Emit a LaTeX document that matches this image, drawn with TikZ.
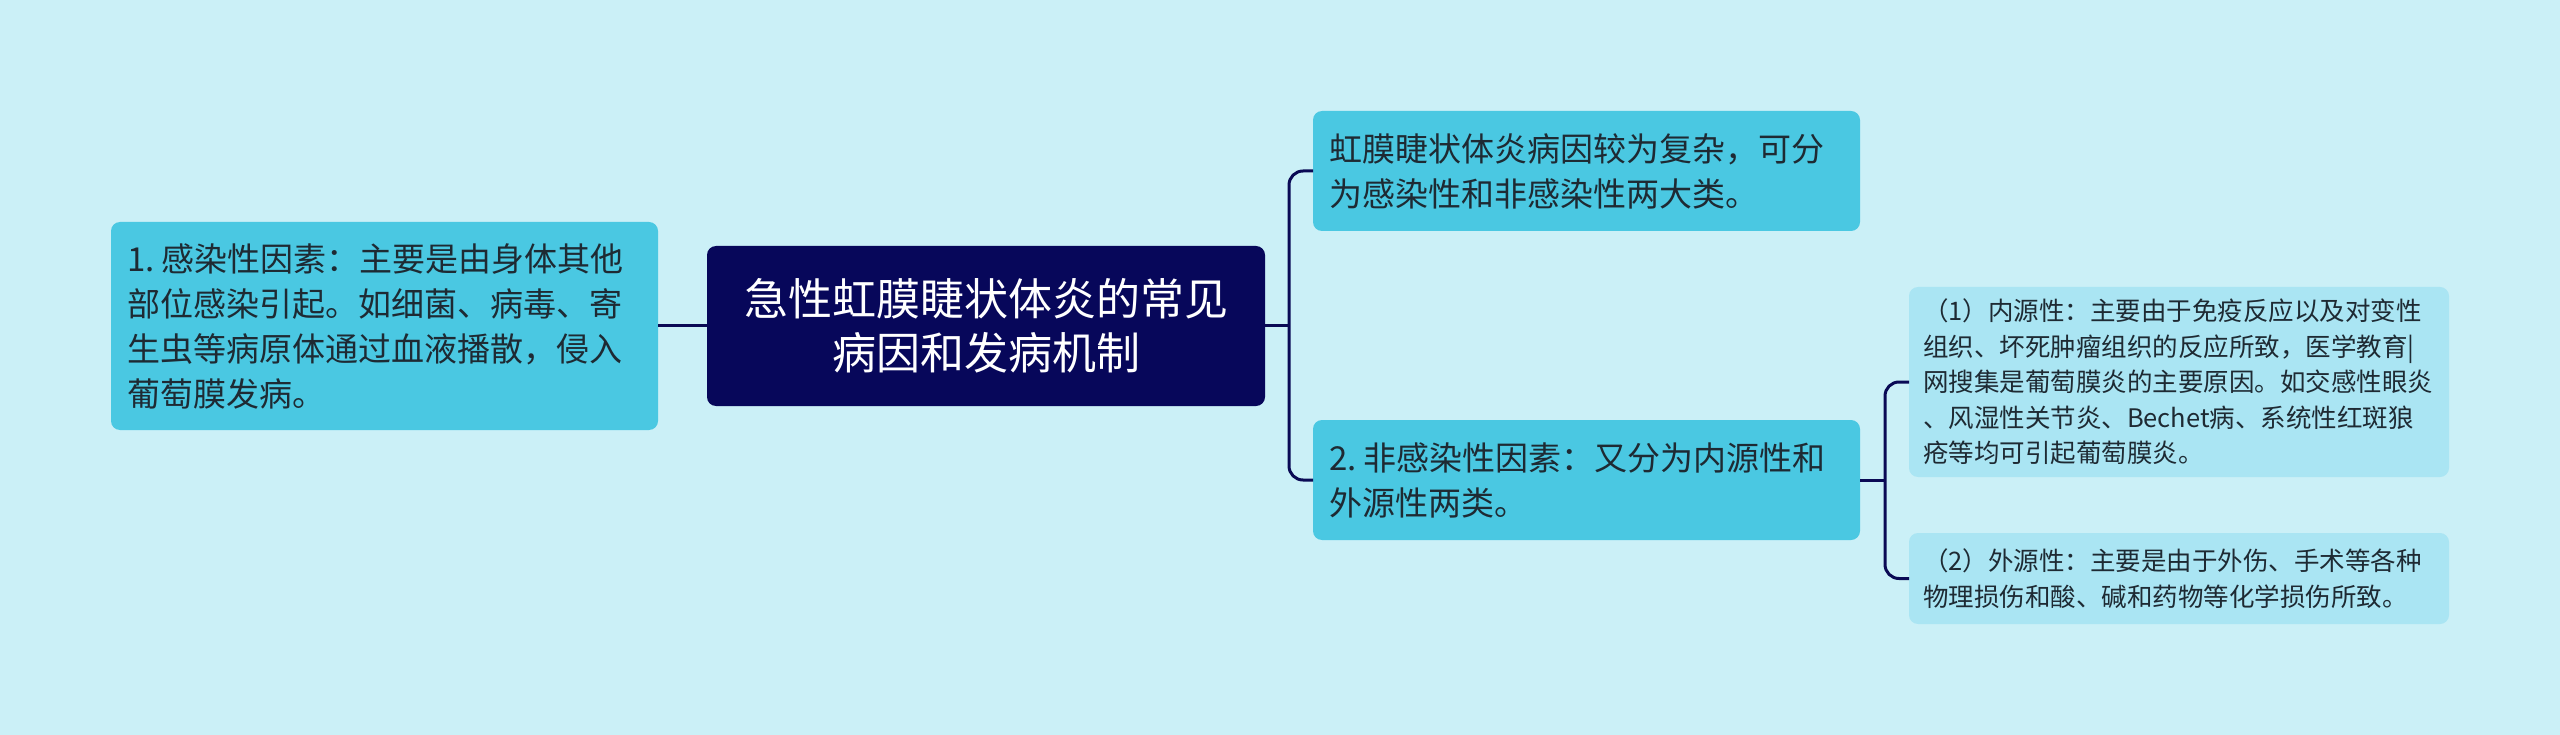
\documentclass[tikz,border=0pt]{standalone}
\usepackage{fontspec}
\setmainfont{Noto Sans CJK SC}
\definecolor{bgc}{HTML}{CBF0F7}
\definecolor{lvone}{HTML}{4AC8E2}
\definecolor{lvtwo}{HTML}{AAE5F3}
\definecolor{rootc}{HTML}{07075A}
\definecolor{linec}{HTML}{0A0A55}
\definecolor{txtc}{HTML}{1E2A33}
\begin{document}
\begin{tikzpicture}[x=1pt,y=-1pt,
  boxbase/.style={draw=none, rounded corners=9pt, anchor=north west, inner ysep=0pt, outer sep=0pt},
  lvbox/.style={boxbase, fill=lvone, text=txtc, align=left, inner xsep=16pt,
     font=\fontsize{33}{45}\selectfont},
  subbox/.style={boxbase, fill=lvtwo, text=txtc, align=left, inner xsep=14pt,
     font=\fontsize{25.5}{35.5}\selectfont},
  rootbox/.style={boxbase, fill=rootc, text=white, align=center,
     font=\fontsize{44}{54}\selectfont},
  conn/.style={draw=linec, line width=3pt},
]
\fill[bgc] (0,0) rectangle (2560,735);
\useasboundingbox (0,0) rectangle (2560,735);

\node[rootbox, minimum width=558pt, minimum height=160pt] (C) at (707,246)
  {急性虹膜睫状体炎的常见\\病因和发病机制};

\node[lvbox, minimum width=547pt, minimum height=208pt, text width=515pt] (L) at (111,222)
  {1.\kern0.22em感染性因素：主要是由身体其他\\部位感染引起。如细菌、病毒、寄\\生虫等病原体通过血液播散，侵入\\葡萄膜发病。};

\node[lvbox, minimum width=547pt, minimum height=120pt, text width=515pt] (R1) at (1313,111)
  {虹膜睫状体炎病因较为复杂，可分\\为感染性和非感染性两大类。};

\node[lvbox, minimum width=547pt, minimum height=120pt, text width=515pt] (R2) at (1313,420)
  {2.\kern0.22em非感染性因素：又分为内源性和\\外源性两类。};

\node[subbox, minimum width=540pt, minimum height=190pt, text width=512pt] (S1) at (1909,287)
  {（1）内源性：主要由于免疫反应以及对变性\\组织、坏死肿瘤组织的反应所致，医学教育|\\网搜集是葡萄膜炎的主要原因。如交感性眼炎\\、风湿性关节炎、Bechet病、系统性红斑狼\\疮等均可引起葡萄膜炎。};

\node[subbox, minimum width=540pt, minimum height=91pt, text width=512pt] (S2) at (1909,533)
  {（2）外源性：主要是由于外伤、手术等各种\\物理损伤和酸、碱和药物等化学损伤所致。};

\coordinate (busA) at (1289,326);
\coordinate (busB) at (1885,480);

\draw[conn] (L.east) -- (C.west);
\draw[conn] (C.east) -- (busA);
\draw[conn, rounded corners=14pt] (R1.west) -| (busA) |- (R2.west);
\draw[conn] (R2.east) -- (busB);
\draw[conn, rounded corners=14pt] (S1.west) -| (busB) |- (S2.west);
\end{tikzpicture}
\end{document}
